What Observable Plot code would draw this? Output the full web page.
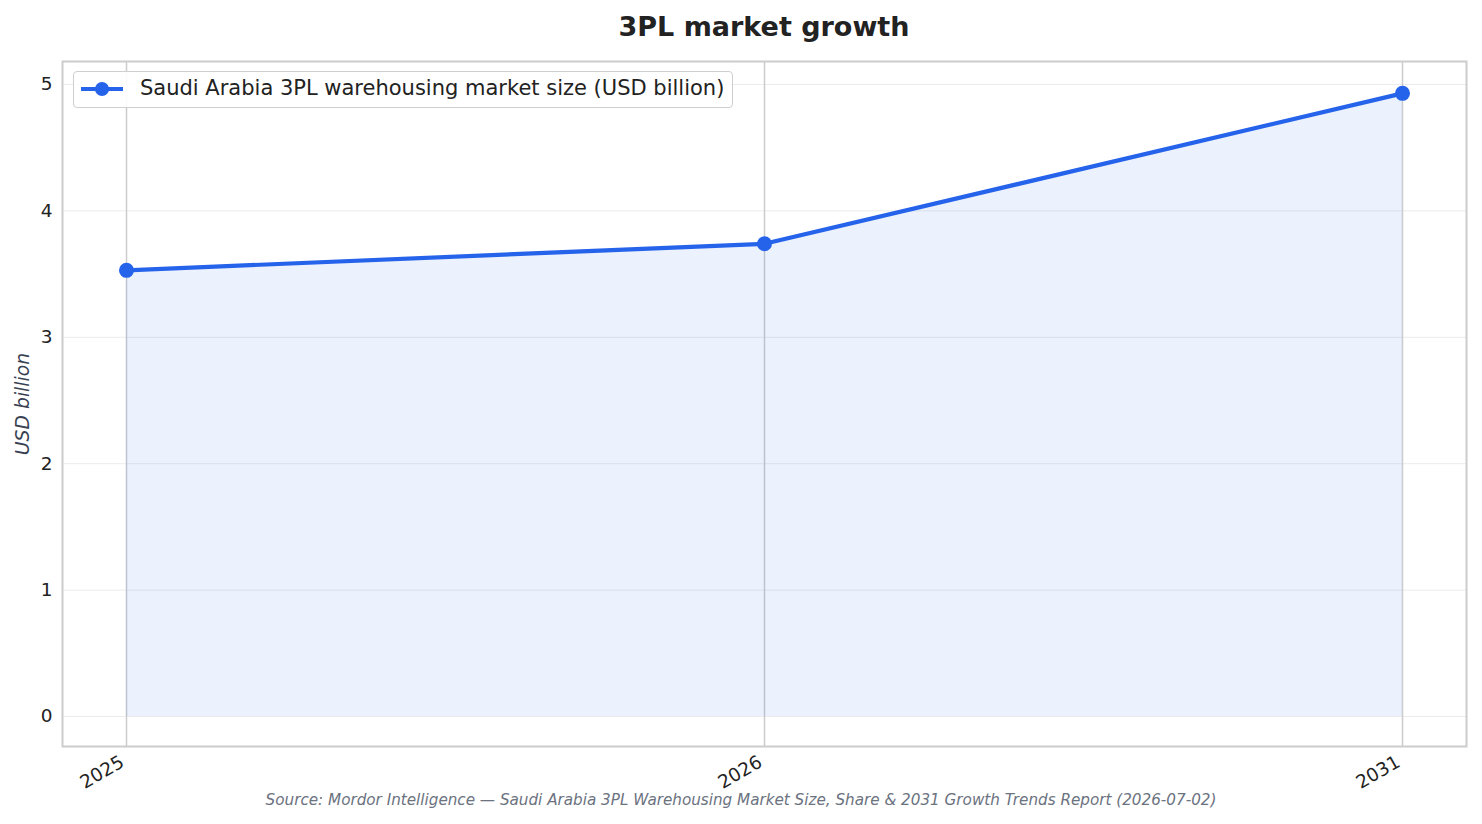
<!DOCTYPE html>
<html>
<head>
<meta charset="utf-8">
<script src="https://cdn.jsdelivr.net/npm/d3@7"></script>
<script src="https://cdn.jsdelivr.net/npm/@observablehq/plot@0.6"></script>
<style>
  body { margin: 0; background: white; font-family: "DejaVu Sans", sans-serif; }
  #wrap { position: relative; width: 1482px; height: 824px; }
  #title { position: absolute; left: 62px; top: 0; width: 1404px; height: 50px; line-height: 54px; text-align: center; font-weight: bold; font-size: 27px; color: #222; }
  #chart { position: absolute; left: 0; top: 50px; }
  #caption { position: absolute; left: 0; top: 791px; width: 1482px; text-align: center; font-style: italic; font-size: 15.2px; color: #6b7280; }
  #legend { position: absolute; left: 73px; top: 71px; width: 658px; height: 35px; border: 1.5px solid #cfcfcf; border-radius: 4px; background: rgba(255,255,255,0.9); }
  #legend svg { position: absolute; left: 5px; top: 0; }
  #legend span { position: absolute; left: 66px; top: 4px; font-size: 21px; color: #222; white-space: nowrap; }
</style>
</head>
<body>
<div id="wrap">
  <div id="title">3PL market growth</div>
  <div id="chart"></div>
  <div id="legend">
    <svg width="50" height="36"><line x1="2" x2="44" y1="17" y2="17" stroke="#2563eb" stroke-width="4"/><circle cx="23" cy="17" r="7" fill="#2563eb"/></svg>
    <span>Saudi Arabia 3PL warehousing market size (USD billion)</span>
  </div>
  <div id="caption">Source: Mordor Intelligence — Saudi Arabia 3PL Warehousing Market Size, Share &amp; 2031 Growth Trends Report (2026-07-02)</div>
</div>
<script>
const years = ["2025", "2026", "2031"];
const values = [3.53, 3.74, 4.93];
const yTicks = [0, 1, 2, 3, 4, 5];
const seriesColor = "#2563eb";

const data = years.map((y, i) => ({year: y, value: values[i]}));

const plot = Plot.plot({
  width: 1482,
  height: 745,
  marginLeft: 62,
  marginRight: 16,
  marginTop: 11,
  marginBottom: 49,
  style: {fontFamily: "DejaVu Sans", fontSize: "18.5px", color: "#222", background: "white"},
  x: {type: "point", domain: years, padding: 0.1, label: null},
  y: {domain: [-0.237, 5.182], label: null},
  marks: [
    Plot.gridY(yTicks, {stroke: "#ebebeb", strokeOpacity: 1, strokeWidth: 1}),
    Plot.gridX(years, {stroke: "#cccccc", strokeOpacity: 1, strokeWidth: 1.5}),
    Plot.areaY(data, {x: "year", y: "value", fill: seriesColor, fillOpacity: 0.09}),
    Plot.lineY(data, {x: "year", y: "value", stroke: seriesColor, strokeWidth: 4.2}),
    Plot.dot(data, {x: "year", y: "value", r: 7.5, fill: seriesColor}),
    Plot.frame({stroke: "#cccccc", strokeWidth: 2}),
    Plot.axisY(yTicks, {tickSize: 0, tickPadding: 10, fontSize: 18.5, tickFormat: d3.format("d"), label: null}),
    Plot.axisX(years, {tickSize: 0, tickPadding: 8, tickRotate: -30, fontSize: 18.5, dx: -4, dy: 6, label: null}),
    Plot.text(["USD billion"], {frameAnchor: "left", textAnchor: "middle", dx: -40, rotate: -90, fontStyle: "italic", fontSize: 18.8, fill: "#374151"})
  ]
});
document.getElementById("chart").appendChild(plot);
</script>
</body>
</html>
